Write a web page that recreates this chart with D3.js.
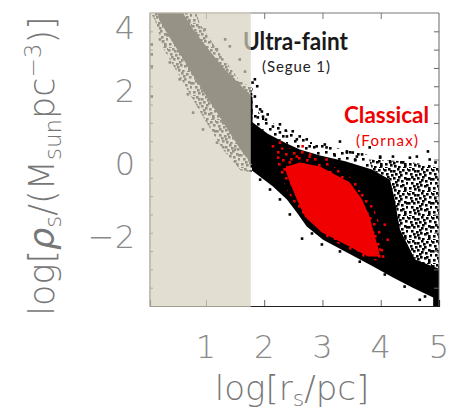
<!DOCTYPE html>
<html>
<head>
<meta charset="utf-8">
<script src="https://cdn.jsdelivr.net/npm/d3@7"></script>
<style>
  body { margin: 0; background: #fff; }
  text { font-family: "DejaVu Sans", sans-serif; font-weight: 200; }
  .note { font-family: Lato, "Open Sans", sans-serif; }
</style>
</head>
<body>
<div id="main"></div>
<script>
// ---- data (log r_s, log rho_s) ----
var xTicks = [1, 2, 3, 4];
var xLabels = [1, 2, 3, 4, 5];
var yLabels = [-2, 0, 2, 4];
var yMinor = [-3.5, -3, -2.5, -2, -1.5, -1, -0.5, 0, 0.5, 1, 1.5, 2, 2.5, 3, 3.5];
var ultraFaintLimit = 1.77;   // shaded: resolution limit

// outlines of the dense parts of each cloud
var ultraFringe = [[0.05,4.15],[0.8,4.15],[0.9,3.7],[1.19,3.0],[1.4,2.55],[1.58,2.15],[1.8,1.95],
  [1.8,-0.35],[1.6,-0.3],[1.29,0.27],[0.95,1.17],[0.61,2.1],[0.28,3.0],[0.12,3.82],[0.05,4.0]];
var ultraCore = [[0.15,4.15],[0.55,4.15],[0.8,3.5],[1.05,3.0],[1.3,2.5],[1.55,2.1],[1.8,1.7],
  [1.8,-0.15],[1.6,0.25],[1.4,0.75],[1.2,1.25],[1.0,1.75],[0.8,2.25],[0.55,2.9],[0.35,3.4],[0.2,3.8]];
var classicUpper = [[1.77,1.55],[1.95,1.2],[2.2,0.95],[2.5,0.7],[2.9,0.45],[3.3,0.3],[3.8,0.12],
  [3.85,-0.27],[3.39,-0.05],[2.96,0.11],[2.61,0.27],[2.36,0.46],[2.06,0.7],[1.77,1.05]];
var classicRight = [[3.8,0.0],[4.4,-0.05],[5.05,-0.2],[5.05,-3.1],[4.59,-2.73],[4.33,-1.91],[4.24,-1.09],
  [4.16,-0.55],[3.85,-0.27]];
var classicCore = [[1.77,1.05],[2.06,0.7],[2.36,0.46],[2.61,0.27],[2.96,0.11],[3.39,-0.05],[3.85,-0.27],
  [4.16,-0.55],[4.24,-1.09],[4.33,-1.91],[4.59,-2.73],[5.05,-3.01],[5.05,-4.1],[4.9,-4.1],[4.9,-3.77],
  [4.55,-3.5],[4.21,-3.22],[3.87,-2.92],[3.42,-2.54],[3.01,-2.19],[2.73,-1.83],[2.56,-1.45],[2.39,-1.09],
  [2.15,-0.74],[1.79,-0.3]];
var fornaxFringe = [[2.2,0.35],[2.7,0.25],[3.1,-0.1],[3.55,-0.55],[3.8,-1.05],[3.95,-1.6],[4.03,-2.2],[4.06,-2.75],
  [3.8,-2.75],[3.5,-2.5],[3.1,-2.15],[2.8,-1.75],[2.55,-1.3],[2.38,-0.8],[2.25,-0.3]];
var fornaxCore = [[2.39,-0.19],[2.61,-0.08],[2.96,-0.19],[3.47,-0.63],[3.68,-1.09],[3.81,-1.56],[3.88,-1.99],
  [3.95,-2.38],[3.99,-2.65],[3.78,-2.65],[3.47,-2.38],[2.99,-1.99],[2.70,-1.56],[2.56,-1.09],[2.44,-0.63],[2.36,-0.27]];

// single points that stand apart from the clouds
var ultraPoints = [[1.41,3.09],[1.27,2.32],[1.58,2.73],[1.67,2.40],[1.53,2.10],[1.19,3.01],[1.72,1.78],
  [1.33,3.28],[0.98,3.55],[0.38,2.65],[0.55,2.19],[0.78,1.28],[0.95,0.82],[1.19,0.46],[0.69,1.78],
  [0.21,3.28],[1.50,0.27],[0.07,3.14],[0.07,2.87],[0.07,2.54],[0.07,1.72]];
var classicPoints = [[1.80,2.10],[1.84,1.72],[1.87,1.45],[1.96,1.31],[1.89,1.15],[2.03,1.09],[2.15,0.90],
  [2.27,0.96],[2.37,0.79],[2.49,0.77],[2.61,0.63],[2.73,0.55],[2.90,0.36],[3.04,0.41],[3.30,0.49],
  [3.42,0.22],[3.52,0.19],[3.68,0.14],[3.81,0.33],[3.99,0.05],[4.21,0.08],[4.38,-0.08],[4.50,0.05],
  [4.62,0.08],[4.81,0.22],[4.84,0.00],[4.94,-0.08],[3.21,0.11],[3.56,0.00],[4.16,-0.05],
  [1.88,2.00],[1.84,2.19],[1.93,1.37],[1.98,1.17],[2.06,1.23],[2.27,0.74],[2.39,0.63],[2.56,0.55],
  [2.78,0.36],[3.07,0.33],[3.42,0.19],[3.59,0.08],[3.99,0.08],
  [2.65,-2.16],[2.99,-2.32],[2.44,-1.50],[2.27,-1.09],[2.10,-0.82],[1.93,-0.55],[2.82,-2.02],
  [3.30,-2.51],[3.64,-2.79],[4.07,-3.14],[4.41,-3.47],[4.76,-3.74],[4.67,-3.83]];
var fornaxPoints = [[2.27,0.46],[2.66,0.36],[2.56,0.08],[2.78,0.08],[2.44,-0.08],[2.15,0.36],[3.07,0.00],
  [3.87,-2.00],[3.99,-2.46],[4.04,-2.65],[4.07,-1.78],[4.12,-2.19],[2.35,-0.27],[2.24,0.05],[2.53,-0.41]];

// ---- layout ----
var W = 449, H = 413;
var x = d3.scaleLinear().domain([0.04, 5]).range([150, 439]);
var y = d3.scaleLinear().domain([-4, 4]).range([306, 13]);

var svg = d3.select('#main').append('svg')
    .attr('width', W).attr('height', H);
var defs = svg.append('defs');

defs.append('clipPath').attr('id', 'plotClip')
  .append('rect').attr('x', 150).attr('y', 13).attr('width', 289).attr('height', 293);

// speckle textures for the sparse edges of the clouds
var speckDense = [[0,1],[4,0],[9,2],[13,0],[18,1],[21,4],[2,5],[7,6],[11,5],[16,6],[20,9],[0,10],
  [5,10],[9,9],[13,11],[17,12],[22,14],[3,14],[8,15],[12,16],[16,17],[20,19],[1,19],[6,20],[10,21],
  [14,22],[19,23],[23,0],[15,3],[6,2],[11,13],[1,23],[18,16],[5,17],[22,10],[9,18],[14,8],[3,8],[20,21]];
var speckLight = [[1,2],[9,1],[17,3],[5,8],[13,7],[21,9],[2,14],[10,13],[18,15],[6,20],[14,19],[22,22]];
function speckle(id, color, spots) {
  var p = defs.append('pattern').attr('id', id)
    .attr('patternUnits', 'userSpaceOnUse').attr('width', 24).attr('height', 24);
  spots.forEach(function(s) {
    p.append('rect').attr('x', s[0]).attr('y', s[1]).attr('width', 2.6).attr('height', 2.6).attr('fill', color);
  });
}
speckle('speckBlack', '#000', speckDense);
speckle('speckSparse', '#000', speckLight);
speckle('speckRed', '#f00000', speckLight);

var outline = d3.line()
    .x(function(d) { return x(d[0]); })
    .y(function(d) { return y(d[1]); })
    .curve(d3.curveLinearClosed);

var plot = svg.append('g').attr('clip-path', 'url(#plotClip)');

function cloud(data, fill) {
  plot.append('path').attr('d', outline(data)).attr('fill', fill);
}
function dots(data, fill) {
  plot.append('g').selectAll('rect')
    .data(data).enter().append('rect')
    .attr('x', function(d) { return x(d[0]) - 1.3; })
    .attr('y', function(d) { return y(d[1]) - 1.3; })
    .attr('width', 2.6).attr('height', 2.6)
    .attr('fill', fill);
}

cloud(ultraFringe, 'url(#speckBlack)');
cloud(ultraCore, '#000');
cloud(classicUpper, 'url(#speckSparse)');
cloud(classicRight, 'url(#speckBlack)');
cloud(classicCore, '#000');
dots(ultraPoints, '#000');
dots(classicPoints, '#000');
cloud(fornaxFringe, 'url(#speckRed)');
cloud(fornaxCore, '#f00000');
dots(fornaxPoints, '#f00000');

// annotations
svg.append('text').attr('class', 'note')
  .attr('x', 243).attr('y', 50).attr('textLength', 105).attr('lengthAdjust', 'spacingAndGlyphs')
  .style('font-size', '25px').style('font-weight', 700).attr('fill', '#1a1a1a')
  .text('Ultra-faint');
svg.append('text').attr('class', 'note')
  .attr('x', 262).attr('y', 72).attr('textLength', 68)
  .style('font-size', '15px').style('font-weight', 400).attr('fill', '#222')
  .text('(Segue 1)');
svg.append('text').attr('class', 'note')
  .attr('x', 344).attr('y', 123).attr('textLength', 85).attr('lengthAdjust', 'spacingAndGlyphs')
  .style('font-size', '23px').style('font-weight', 700).attr('fill', '#ee0000')
  .text('Classical');
svg.append('text').attr('class', 'note')
  .attr('x', 356).attr('y', 146).attr('textLength', 62)
  .style('font-size', '15px').style('font-weight', 400).attr('fill', '#ee0000')
  .text('(Fornax)');

// axes frame and ticks
var frame = svg.append('g');
frame.append('line').attr('x1', 150).attr('x2', 439).attr('y1', 13).attr('y2', 13).attr('stroke', '#777');
frame.append('line').attr('x1', 439).attr('x2', 439).attr('y1', 13).attr('y2', 306).attr('stroke', '#666');
frame.append('line').attr('x1', 150).attr('x2', 150).attr('y1', 13).attr('y2', 306).attr('stroke', '#333');

frame.append('g').attr('transform', 'translate(0,306)')
  .call(d3.axisBottom(x).tickValues(xTicks).tickSize(-6).tickFormat(''))
  .call(function(g) {
    g.select('.domain').attr('stroke', '#222').attr('stroke-width', 1.2);
    g.selectAll('.tick line').attr('stroke', '#666');
  });
frame.append('g').attr('transform', 'translate(0,13)')
  .call(d3.axisTop(x).tickValues(xTicks).tickSize(-6).tickFormat(''))
  .call(function(g) {
    g.select('.domain').remove();
    g.selectAll('.tick line').attr('stroke', '#777');
  });
frame.append('g').attr('transform', 'translate(150,0)')
  .call(d3.axisLeft(y).tickValues(yMinor).tickSize(-3).tickFormat(''))
  .call(function(g) {
    g.select('.domain').remove();
    g.selectAll('.tick line').attr('stroke', '#555');
  });
frame.append('g').attr('transform', 'translate(439,0)')
  .call(d3.axisRight(y).tickValues(yMinor).tickSize(-5).tickFormat(''))
  .call(function(g) {
    g.select('.domain').remove();
    g.selectAll('.tick line').attr('stroke', '#666');
  });

// shaded region drawn over everything, so points beneath turn grey
svg.append('rect')
  .attr('x', 149).attr('y', 12)
  .attr('width', x(ultraFaintLimit) - 149).attr('height', 295)
  .attr('fill', 'rgb(214,208,190)').attr('opacity', 0.7);

// tick labels
svg.append('g').selectAll('text')
  .data(xLabels).enter().append('text')
  .attr('x', function(d) { return x(d); })
  .attr('y', 358)
  .attr('text-anchor', 'middle')
  .style('font-size', '32px').attr('fill', '#8a8a8a')
  .text(function(d) { return d; });
svg.append('g').selectAll('text')
  .data(yLabels).enter().append('text')
  .attr('x', 135)
  .attr('y', function(d) { return Math.max(y(d) + 4, 27.5); })
  .attr('dy', '0.36em')
  .attr('text-anchor', 'end')
  .style('font-size', '32px').attr('fill', '#8a8a8a')
  .text(function(d) { return d < 0 ? '\u2212' + Math.abs(d) : d; });

// axis titles
var xt = svg.append('text')
  .attr('x', 292).attr('y', 400).attr('text-anchor', 'middle')
  .style('font-size', '34px').attr('fill', '#777');
xt.append('tspan').text('log[r');
xt.append('tspan').attr('dy', 6).style('font-size', '22px').text('s');
xt.append('tspan').attr('dy', -6).text('/pc]');

var yt = svg.append('text')
  .attr('transform', 'translate(54,166) rotate(-90)')
  .attr('text-anchor', 'middle')
  .style('font-size', '35px').attr('fill', '#777');
yt.append('tspan').text('log[');
yt.append('tspan').style('font-style', 'italic').style('font-weight', 400).text('\u03c1');
yt.append('tspan').attr('dy', 7).style('font-size', '23px').text('s');
yt.append('tspan').attr('dy', -7).text('/(M');
yt.append('tspan').attr('dy', 7).style('font-size', '23px').text('sun');
yt.append('tspan').attr('dy', -7).text('pc');
yt.append('tspan').attr('dy', -13).style('font-size', '23px').text('\u22123');
yt.append('tspan').attr('dy', 13).text(')]');
</script>
</body>
</html>
